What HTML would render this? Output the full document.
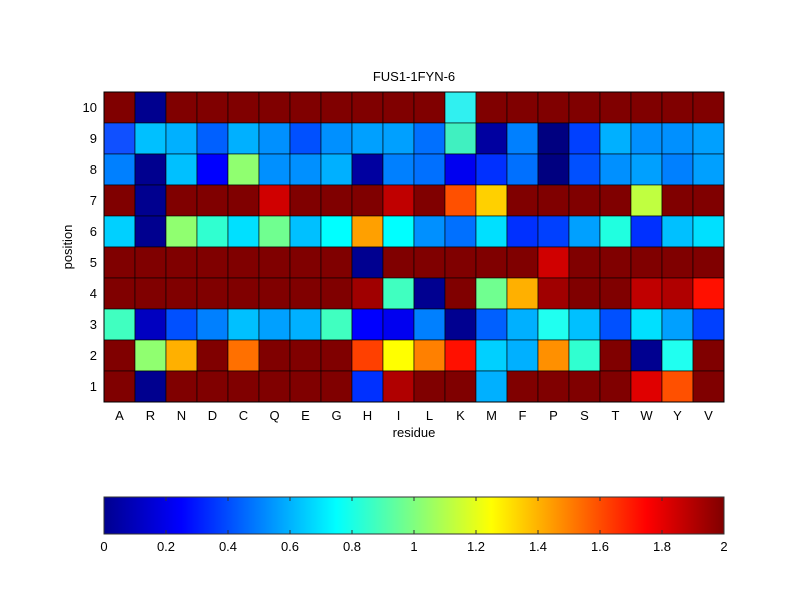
<!DOCTYPE html>
<html><head><meta charset="utf-8"><style>
body{margin:0;background:#fff;}
svg{display:block;font-family:"Liberation Sans",sans-serif;}
</style></head><body>
<svg id="s" width="800" height="600" xmlns="http://www.w3.org/2000/svg">
<defs>
<linearGradient id="jet" x1="0" x2="1" y1="0" y2="0">
<stop offset="0" stop-color="#00008f"/>
<stop offset="0.125" stop-color="#0000ff"/>
<stop offset="0.375" stop-color="#00ffff"/>
<stop offset="0.625" stop-color="#ffff00"/>
<stop offset="0.875" stop-color="#ff0000"/>
<stop offset="1" stop-color="#800000"/>
</linearGradient>
</defs>
<rect width="800" height="600" fill="#fff"/>
<g id="grid"></g>
<rect x="104" y="92" width="620" height="310" fill="none" stroke="#000" stroke-width="1"/>
<text x="414" y="81" font-size="13" text-anchor="middle">FUS1-1FYN-6</text>
<g font-size="13" text-anchor="end" id="yl"></g>
<g font-size="13" text-anchor="middle" id="xl"></g>
<text x="414" y="437" font-size="13" text-anchor="middle">residue</text>
<text transform="translate(72,247) rotate(-90)" font-size="13" text-anchor="middle">position</text>
<rect x="104" y="497" width="620" height="37" fill="url(#jet)" stroke="#333" stroke-width="1"/>
<g id="cb" font-size="13" text-anchor="middle"></g>
</svg>
<script>
var D="#800000",B="#00008f";
var rows=[
[D,B,D,D,D,D,D,D,D,D,D,"#30f0f0",D,D,D,D,D,D,D,D],
["#1050ff","#00c0ff","#00b0ff","#0060ff","#00b0ff","#0090ff","#0050ff","#0090ff","#00a0ff","#00a0ff","#0070ff","#40f0c0","#0000a0","#0080ff","#000080","#0040ff","#00b0ff","#0090ff","#0090ff","#00a0ff"],
["#0080ff",B,"#00c0ff","#0000ff","#90ff70","#0090ff","#0090ff","#00b0ff","#0000a0","#0080ff","#0070ff","#0000f0","#0030ff","#0070ff","#000080","#0050ff","#0090ff","#00a0ff","#0080ff","#00a0ff"],
[D,B,D,D,D,"#d00000",D,D,D,"#c00000",D,"#ff5000","#ffd000",D,D,D,D,"#c0ff40",D,D],
["#00d0ff",B,"#90ff70","#30ffd0","#00e0ff","#70ff90","#00c0ff","#00ffff","#ffa000","#00ffff","#0090ff","#0070ff","#00e0ff","#0030ff","#0040ff","#00a0ff","#20ffe0","#0030ff","#00c0ff","#00e0ff"],
[D,D,D,D,D,D,D,D,"#000090",D,D,D,D,D,"#d00000",D,D,D,D,D],
[D,D,D,D,D,D,D,D,"#a00000","#40ffc0","#000090",D,"#70ff90","#ffb000","#a00000",D,D,"#c00000","#b00000","#ff1000"],
["#40ffc0","#0000c0","#0050ff","#0080ff","#00c0ff","#00a0ff","#00b0ff","#40ffc0","#0000ff","#0000f0","#0080ff","#000090","#0060ff","#00b0ff","#20fff0","#00c0ff","#0050ff","#00e0ff","#00a0ff","#0040ff"],
[D,"#90ff70","#ffb000",D,"#ff7000",D,D,D,"#ff4000","#ffff00","#ff8000","#ff1000","#00d0ff","#00b0ff","#ff9000","#30ffd0",D,"#000090","#20fff0",D],
[D,B,D,D,D,D,D,D,"#0030ff","#b00000",D,D,"#00b0ff",D,D,D,D,"#e00000","#ff5000",D]];
var NS="http://www.w3.org/2000/svg",g=document.getElementById("grid");
function el(p,t,a,txt){var e=document.createElementNS(NS,t);for(var k in a)e.setAttribute(k,a[k]);if(txt!=null)e.textContent=txt;p.appendChild(e);}
for(var r=0;r<10;r++)for(var c=0;c<20;c++)el(g,"rect",{x:104+c*31,y:92+r*31,width:31,height:31,fill:rows[r][c],stroke:"#000","stroke-width":0.6});
var res="ARNDCQEGHILKMFPSTWYV";
for(var c=0;c<20;c++)el(document.getElementById("xl"),"text",{x:104+c*31+15.5,y:420},res[c]);
for(var r=0;r<10;r++)el(document.getElementById("yl"),"text",{x:97,y:92+r*31+20},String(10-r));
var cb=document.getElementById("cb");
var labs=["0","0.2","0.4","0.6","0.8","1","1.2","1.4","1.6","1.8","2"];
for(var i=0;i<11;i++){var x=104+i*62;el(cb,"text",{x:x,y:551},labs[i]);
if(i>0&&i<10){el(cb,"line",{x1:x,x2:x,y1:497,y2:501,stroke:"#333"});el(cb,"line",{x1:x,x2:x,y1:530,y2:534,stroke:"#333"});}}
</script>
</body></html>
